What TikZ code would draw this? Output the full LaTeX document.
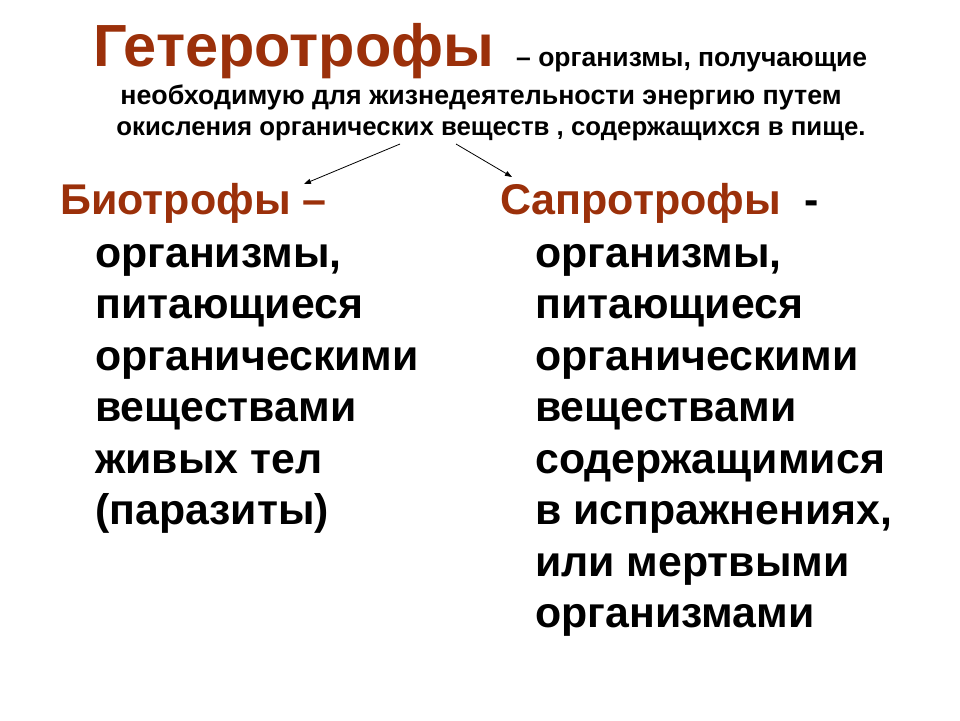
\documentclass[tikz,border=0pt]{standalone}
\usepackage{fontspec}
\setmainfont{Liberation Sans}
\usetikzlibrary{arrows.meta}
\definecolor{rust}{RGB}{155,48,10}

\tikzset{
  line/.style={anchor=base west, inner sep=0pt, font=\bfseries\fontsize{#1}{#1}\selectfont},
  head/.style={line=43, text=rust},
  body/.style={line=42.8},
  branch/.style={-{Triangle[length=7pt,width=5pt]}, line width=0.8pt}
}

\begin{document}
\begin{tikzpicture}[x=1pt,y=-1pt]
\useasboundingbox[fill=white] (0,0) rectangle (960,720);

%Definition
\node[line=59.5, text=rust] (title) at (93,66) {Гетеротрофы};
\node[line=26.5] (defn1) at (516,66) {– организмы, получающие};
\node[line=26.8, anchor=base] (defn2) at (481,104) {необходимую для жизнедеятельности энергию путем};
\node[line=25.8, anchor=base] (defn3) at (491,135) {окисления органических веществ , содержащихся в пище.};

%%Branches
\coordinate (fork-l) at (400,144);
\coordinate (fork-r) at (456,144);
\coordinate (tip-l) at (304,184);
\coordinate (tip-r) at (512,177);
\draw[branch] (fork-l) -- (tip-l);
\draw[branch] (fork-r) -- (tip-r);

%Biotrophs
\node[head] (bio) at (60,214) {Биотрофы –};
\foreach \txt [count=\i] in {{организмы,}, питающиеся, органическими, веществами, живых тел, (паразиты)}
\node[body] (bio-\i) at (95,{267+(\i-1)*51.5}) {\txt};

%Saprotrophs
\node[head] (sap) at (500,214) {Сапротрофы\ \ \textcolor{black}{-}};
\foreach \txt [count=\i] in {{организмы,}, питающиеся, органическими, веществами, содержащимися, {в испражнениях,}, или мертвыми, организмами}
\node[body] (sap-\i) at (535,{267+(\i-1)*51.5}) {\txt};
\end{tikzpicture}
\end{document}
